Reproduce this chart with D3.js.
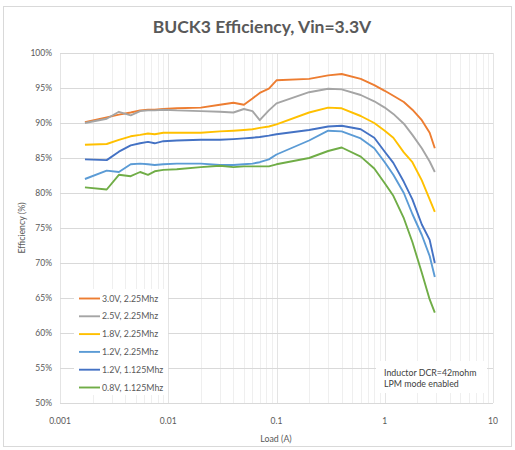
<!DOCTYPE html>
<html>
<head>
<meta charset="UTF-8">
<title>BUCK3 Efficiency</title>
<script src="https://d3js.org/d3.v7.min.js"></script>
<style>
  body { margin: 0; padding: 0; background: #fff; }
  svg { display: block; font-family: Lato, "Open Sans", sans-serif; }
</style>
</head>
<body>
<svg id="chart" width="515" height="450"></svg>
<script>
// load points (A), shared by all series
const loads = [0.0017, 0.0027, 0.0035, 0.0045, 0.0055, 0.0065, 0.0075, 0.009, 0.012, 0.02,
  0.03, 0.04, 0.05, 0.06, 0.07, 0.085, 0.1, 0.2, 0.3, 0.4, 0.6, 0.8, 1.0, 1.2, 1.5, 1.8, 2.2, 2.6, 2.9];

// efficiency (%) per series
const eff30 = [90.1, 90.8, 91.2, 91.5, 91.8, 91.9, 91.9, 92.0, 92.1, 92.2,
  92.6, 92.9, 92.6, 93.5, 94.3, 94.9, 96.1, 96.3, 96.8, 97.0, 96.3, 95.4, 94.6, 93.9, 93.0, 91.9, 90.4, 88.6, 86.4];
const eff25 = [90.0, 90.6, 91.6, 91.1, 91.7, 91.8, 91.8, 91.9, 91.8, 91.7,
  91.6, 91.5, 92.0, 91.7, 90.4, 91.8, 92.8, 94.4, 94.9, 94.8, 94.0, 93.1, 92.2, 91.3, 89.9, 88.3, 86.4, 84.5, 83.0];
const eff18 = [86.9, 87.0, 87.6, 88.1, 88.3, 88.5, 88.4, 88.6, 88.6, 88.6,
  88.8, 88.9, 89.0, 89.1, 89.3, 89.5, 89.8, 91.5, 92.2, 92.1, 91.0, 90.0, 88.9, 87.9, 85.8, 84.4, 81.8, 79.1, 77.3];
const eff12a = [82.0, 83.2, 83.0, 84.1, 84.2, 84.1, 84.0, 84.1, 84.2, 84.2,
  84.0, 84.0, 84.1, 84.2, 84.4, 84.8, 85.5, 87.5, 88.9, 88.8, 87.8, 86.4, 84.4, 82.6, 80.0, 77.0, 74.0, 71.0, 68.0];
const eff12b = [84.8, 84.7, 85.9, 86.8, 87.1, 87.3, 87.1, 87.4, 87.5, 87.6,
  87.6, 87.7, 87.8, 87.9, 88.0, 88.2, 88.4, 89.0, 89.5, 89.6, 89.1, 87.9, 85.9, 84.3, 81.6, 79.1, 75.5, 73.3, 70.0];
const eff08 = [80.8, 80.5, 82.6, 82.4, 83.0, 82.6, 83.1, 83.3, 83.4, 83.7,
  83.9, 83.7, 83.8, 83.8, 83.8, 83.8, 84.1, 85.0, 86.0, 86.5, 85.2, 83.5, 81.4, 79.6, 76.4, 73.0, 68.6, 64.8, 62.9];

const seriesNames = ["3.0V, 2.25Mhz", "2.5V, 2.25Mhz", "1.8V, 2.25Mhz", "1.2V, 2.25Mhz", "1.2V, 1.125Mhz", "0.8V, 1.125Mhz"];
const seriesValues = [eff30, eff25, eff18, eff12a, eff12b, eff08];
const seriesColors = ["#ed7d31", "#a5a5a5", "#ffc000", "#5b9bd5", "#4472c4", "#70ad47"];

const xTicks = [0.001, 0.01, 0.1, 1, 10];
const yTicks = [50, 55, 60, 65, 70, 75, 80, 85, 90, 95, 100];
const noteLines = ["Inductor DCR=42mohm", "LPM mode enabled"];

const svg = d3.select("#chart");

// outer chart border
svg.append("rect")
  .attr("x", 3.5).attr("y", 6.5)
  .attr("width", 508).attr("height", 440)
  .attr("fill", "#fff").attr("stroke", "#d9d9d9");

const x = d3.scaleLog().domain([0.001, 10]).range([60, 493]);
const y = d3.scaleLinear().domain([50, 100]).range([403, 53]);

// minor vertical gridlines for the log axis
const minor = [];
for (let e = -3; e < 1; e++) {
  for (let m = 2; m <= 9; m++) minor.push(m * Math.pow(10, e));
}
svg.append("g").selectAll("line")
  .data(minor.concat(xTicks))
  .join("line")
  .attr("x1", d => Math.round(x(d)) + 0.5).attr("x2", d => Math.round(x(d)) + 0.5)
  .attr("y1", y(100)).attr("y2", y(50))
  .attr("stroke", d => xTicks.includes(d) ? "#e4e4e4" : "#efefef")
  .attr("stroke-width", 1);

// horizontal gridlines
svg.append("g").selectAll("line")
  .data(yTicks)
  .join("line")
  .attr("x1", x(0.001)).attr("x2", x(10))
  .attr("y1", d => Math.round(y(d)) + 0.5).attr("y2", d => Math.round(y(d)) + 0.5)
  .attr("stroke", "#d9d9d9");

// y tick labels
svg.append("g").selectAll("text")
  .data(yTicks)
  .join("text")
  .attr("x", 52).attr("y", d => y(d) + 3)
  .attr("text-anchor", "end")
  .attr("font-size", "8.5px").attr("fill", "#595959")
  .text(d => d + "%");

// x tick labels
svg.append("g").selectAll("text")
  .data(xTicks)
  .join("text")
  .attr("x", d => x(d)).attr("y", 424)
  .attr("text-anchor", "middle")
  .attr("font-size", "8.5px").attr("fill", "#595959")
  .text(d => String(d));

// series lines
const line = d3.line()
  .x((d, i) => x(loads[i]))
  .y(d => y(d));

svg.append("g").selectAll("path")
  .data(seriesValues)
  .join("path")
  .attr("d", d => line(d))
  .attr("fill", "none")
  .attr("stroke", (d, i) => seriesColors[i])
  .attr("stroke-width", 1.9)
  .attr("stroke-linejoin", "round");

// legend with white background
const legend = svg.append("g");
legend.append("rect")
  .attr("x", 74).attr("y", 289).attr("width", 94).attr("height", 106)
  .attr("fill", "#fff");
seriesNames.forEach((name, i) => {
  const ly = 298.5 + i * 17.8;
  legend.append("line")
    .attr("x1", 79).attr("x2", 100).attr("y1", ly).attr("y2", ly)
    .attr("stroke", seriesColors[i]).attr("stroke-width", 1.9);
  legend.append("text")
    .attr("x", 102).attr("y", ly + 3)
    .attr("font-size", "8.8px").attr("fill", "#595959")
    .text(name);
});

// annotation box
const note = svg.append("g");
note.append("rect")
  .attr("x", 376).attr("y", 361).attr("width", 111).attr("height", 32)
  .attr("fill", "#fff");
note.selectAll("text")
  .data(noteLines)
  .join("text")
  .attr("x", 384).attr("y", (d, i) => 375.5 + i * 11)
  .attr("font-size", "8.8px").attr("fill", "#404040")
  .text(d => d);

// title and axis titles
svg.append("text")
  .attr("x", 262).attr("y", 33)
  .attr("text-anchor", "middle")
  .attr("font-size", "17.5px").attr("font-weight", "bold").attr("fill", "#595959")
  .text("BUCK3 Efficiency, Vin=3.3V");

svg.append("text")
  .attr("x", 276).attr("y", 442)
  .attr("text-anchor", "middle")
  .attr("font-size", "8.8px").attr("fill", "#595959")
  .text("Load (A)");

svg.append("text")
  .attr("transform", "translate(25,228) rotate(-90)")
  .attr("text-anchor", "middle")
  .attr("font-size", "8.8px").attr("fill", "#595959")
  .text("Efficiency (%)");
</script>
</body>
</html>
